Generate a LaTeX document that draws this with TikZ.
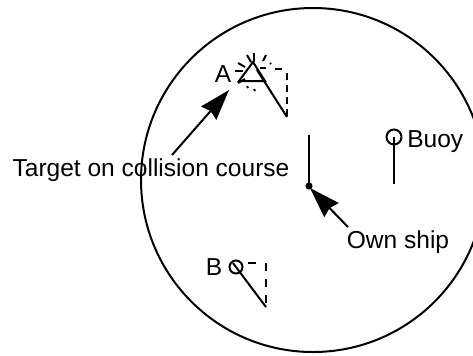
\documentclass[tikz,border=0pt]{standalone}
\usepackage{fontspec}
\setmainfont{Liberation Sans}
\usetikzlibrary{arrows.meta}
\tikzset{
  trail/.style={line width=1.5pt},
  plot/.style={line width=1.5pt,dash pattern=on 5pt off 4pt},
  plotwide/.style={line width=1.5pt,dash pattern=on 6pt off 6pt},
  leader/.style={line width=1.5pt,-{Stealth[length=23pt,width=15pt,inset=2pt]}},
  spark/.style={line width=1.5pt},
  lbl/.style={font=\fontsize{18.4}{21}\selectfont,inner sep=0pt}
}
\begin{document}
\begin{tikzpicture}[x=0.75pt,y=-0.75pt]
  \useasboundingbox (0,0) rectangle (473,355);
  \begin{scope}
    \clip (0,0) rectangle (473,355);
    \draw[line width=1.5pt] (313,180) circle[radius=172];
  \end{scope}
  \coordinate (ownship) at (309,186);
  \coordinate (heading) at (309,135);
  \draw[trail] (ownship) -- (heading);
  \fill (ownship) circle[radius=3.6];
  \node[lbl] (ownlabel) at (398,242) {Own ship};
  \coordinate (owntail) at (348,227);
  \draw[leader] (owntail) -- (310,188);
  \node[draw,circle,line width=1.5pt,minimum size=15pt*0.75,inner sep=0pt] (buoy) at (394,137) {};
  \coordinate (buoyend) at (394,184);
  \draw[trail] (buoy.center) -- (buoyend);
  \node[lbl,anchor=west] (buoylabel) at (407,142) {Buoy};
  \node[lbl] (targetlabel) at (151,170) {Target on collision course};
  \coordinate (targettail) at (172,155);
  \coordinate (targettip) at (229,90);
  \draw[leader] (targettail) -- (targettip);
  \node[lbl] (alabel) at (223,74) {A};
  \coordinate (atop) at (253,62);
  \coordinate (aleft) at (239,81);
  \coordinate (aright) at (265,81);
  \coordinate (aend) at (287,117);
  \coordinate (acorner) at (287,73);
  \draw[trail] (atop) -- (aright) -- (aleft) -- cycle;
  \draw[trail] (257,70) -- (aend);
  \draw[trail] (275,69) -- (282,69);
  \draw[plot] (acorner) -- (aend);
  \draw[spark] (254,53) -- (254,62);
  \draw[spark] (247,55) -- (251,62);
  \draw[spark] (266,55) -- (263,61);
  \draw[spark] (238,63) -- (245,67);
  \draw[spark] (235,71) -- (243,71);
  \draw[spark] (260,68) -- (266,68);
  \draw[spark] (238,83) -- (245,79);
  \draw[spark] (270,63) -- (271,64);
  \draw[spark] (247,86) -- (248,88);
  \draw[spark] (254,89) -- (255,91);
  \node[lbl] (blabel) at (214,267) {B};
  \node[draw,circle,line width=1.5pt,minimum size=13pt*0.75,inner sep=0pt] (bship) at (236,267) {};
  \coordinate (bend) at (266,307);
  \coordinate (bcorner) at (266,263);
  \draw[trail] (233,263) -- (bend);
  \draw[trail] (248,263) -- (256,263);
  \draw[plotwide] (bcorner) -- (bend);
\end{tikzpicture}
\end{document}
